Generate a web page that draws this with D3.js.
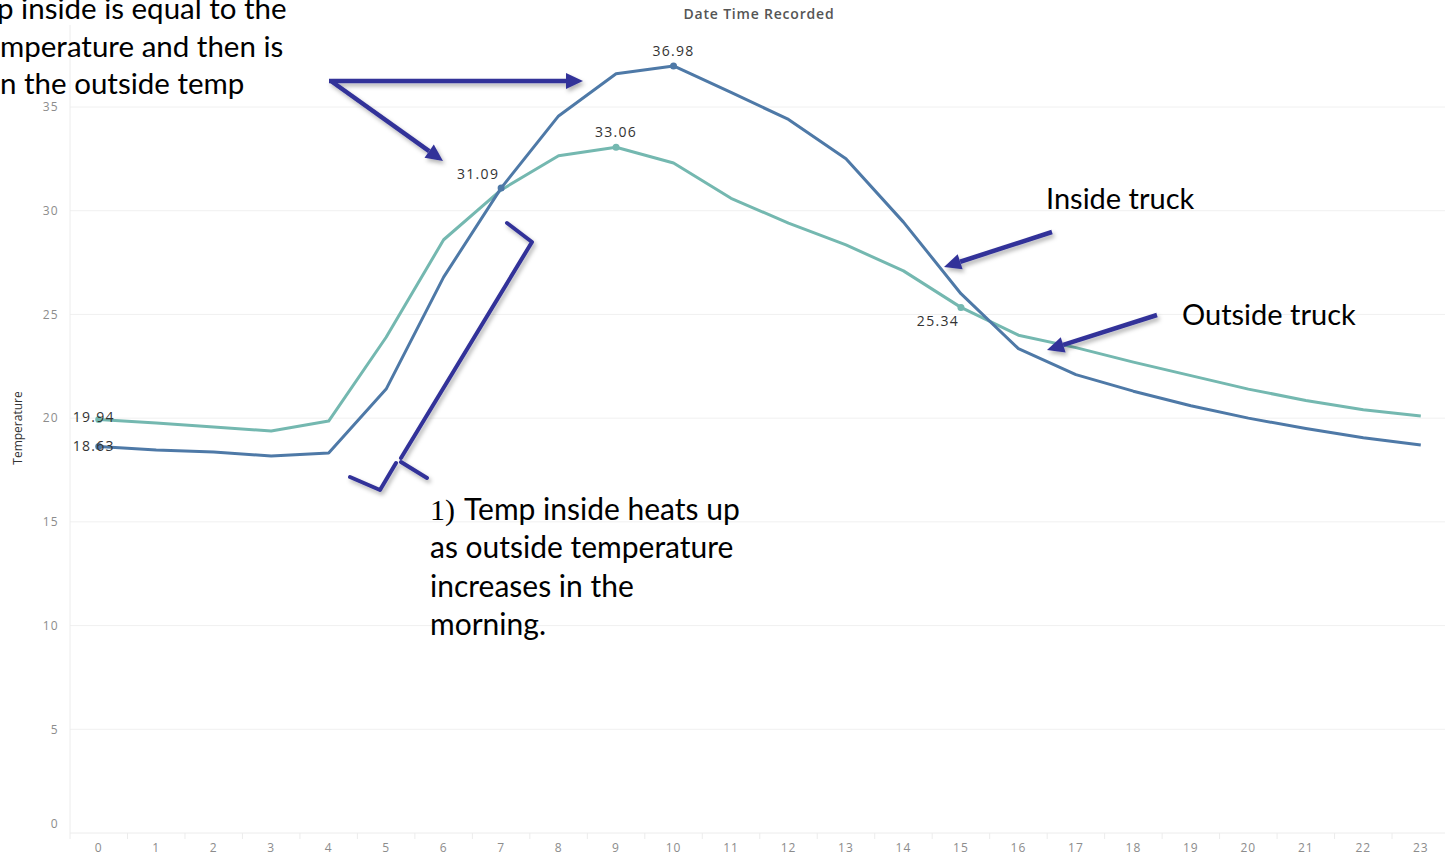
<!DOCTYPE html>
<html>
<head>
<meta charset="utf-8">
<script src="https://cdn.jsdelivr.net/npm/d3@7"></script>
<style>
body { margin: 0; background: #fff; overflow: hidden; }
</style>
</head>
<body>
<svg id="chart" width="1445" height="855"></svg>
<script>
// hourly readings
const hours = [0,1,2,3,4,5,6,7,8,9,10,11,12,13,14,15,16,17,18,19,20,21,22,23]
const insideTemp = [18.63,18.46,18.37,18.17,18.32,21.4,26.8,31.09,34.57,36.6,36.98,35.7,34.4,32.5,29.45,26.0,23.35,22.1,21.3,20.6,20.0,19.5,19.05,18.7]
const outsideTemp = [19.94,19.77,19.57,19.38,19.86,23.9,28.6,31.0,32.65,33.06,32.3,30.6,29.4,28.35,27.1,25.34,24.0,23.4,22.7,22.05,21.4,20.85,20.4,20.1]
const yTicks = [0,5,10,15,20,25,30,35]
const insideMarked = [0,7,10]
const outsideMarked = [0,9,15]

const width = 1445, height = 855
const margin = {top: 25, left: 70, bottom: 833}
const band = 57.48

const svg = d3.select("#chart")

const x = d3.scaleBand()
  .domain(hours)
  .range([margin.left, margin.left + band * hours.length])

const y = d3.scaleLinear()
  .domain([0, 35])
  .range([833, 107])

const xc = h => x(h) + x.bandwidth() / 2

// shadow for the hand drawn arrows
const defs = svg.append("defs")
defs.append("filter").attr("id", "shadow")
  .attr("x", "-20%").attr("y", "-20%").attr("width", "140%").attr("height", "140%")
  .append("feDropShadow")
    .attr("dx", 2).attr("dy", 3).attr("stdDeviation", 2)
    .attr("flood-color", "#000").attr("flood-opacity", 0.3)

// gridlines
svg.append("g")
  .selectAll("line")
  .data(yTicks.filter(d => d > 0))
  .join("line")
    .attr("x1", margin.left).attr("x2", width)
    .attr("y1", d => y(d)).attr("y2", d => y(d))
    .attr("stroke", "#f0f0f0")

// y axis
const yAxis = svg.append("g")
  .attr("transform", `translate(${margin.left},0)`)
  .call(d3.axisLeft(y).tickValues(yTicks).tickSize(0).tickPadding(11))
yAxis.select(".domain").attr("stroke", "#ececec").attr("d", `M0,${margin.top}V${margin.bottom}`)
yAxis.selectAll("text")
  .attr("font-family", "Open Sans, sans-serif")
  .attr("font-size", 12)
  .attr("letter-spacing", 1.3)
  .attr("fill", "#8c8c8c")
  .attr("dy", d => d === 0 ? "-0.45em" : "0.32em")

// x axis
const xAxis = svg.append("g")
  .attr("transform", `translate(0,${margin.bottom})`)
  .call(d3.axisBottom(x).tickSize(0).tickPadding(10))
xAxis.select(".domain").attr("stroke", "#ececec").attr("d", `M${margin.left},0H${width}`)
xAxis.selectAll("text")
  .attr("font-family", "Open Sans, sans-serif")
  .attr("font-size", 12)
  .attr("letter-spacing", 1)
  .attr("fill", "#8c8c8c")
xAxis.append("g")
  .selectAll("line")
  .data(hours)
  .join("line")
    .attr("x1", d => x(d)).attr("x2", d => x(d))
    .attr("y1", 0).attr("y2", 6)
    .attr("stroke", "#ececec")

// axis titles
svg.append("text")
  .attr("x", 759).attr("y", 19)
  .attr("text-anchor", "middle")
  .attr("font-family", "Open Sans, sans-serif")
  .attr("font-size", 14)
  .attr("font-weight", 600)
  .attr("letter-spacing", 0.8)
  .attr("fill", "#555")
  .text("Date Time Recorded")

svg.append("text")
  .attr("transform", "translate(22,428) rotate(-90)")
  .attr("text-anchor", "middle")
  .attr("font-family", "Open Sans, sans-serif")
  .attr("font-size", 12)
  .attr("fill", "#333")
  .text("Temperature")

// lines
const series = [
  {name: "Outside", values: outsideTemp, color: "#74b8b0", marked: outsideMarked},
  {name: "Inside", values: insideTemp, color: "#4e79a7", marked: insideMarked}
]

const line = d3.line()
  .x((d, i) => xc(hours[i]))
  .y(d => y(d))

svg.append("g")
  .attr("fill", "none")
  .attr("stroke-width", 3)
  .attr("stroke-linejoin", "round")
  .selectAll("path")
  .data(series)
  .join("path")
    .attr("stroke", d => d.color)
    .attr("d", d => line(d.values))

// marked points + labels
const labelOffset = {
  "Inside-0": [-5, 4], "Inside-7": [-23, -9], "Inside-10": [0, -10],
  "Outside-0": [-5, 3], "Outside-9": [0, -10], "Outside-15": [-23, 19]
}
const marks = series.flatMap(s => s.marked.map(i => ({s, i, v: s.values[i]})))

svg.append("g")
  .selectAll("circle")
  .data(marks)
  .join("circle")
    .attr("cx", d => xc(hours[d.i]))
    .attr("cy", d => y(d.v))
    .attr("r", 3.5)
    .attr("fill", d => d.s.color)

svg.append("g")
  .selectAll("text")
  .data(marks)
  .join("text")
    .attr("x", d => xc(hours[d.i]) + labelOffset[d.s.name + "-" + d.i][0])
    .attr("y", d => y(d.v) + labelOffset[d.s.name + "-" + d.i][1])
    .attr("text-anchor", "middle")
    .attr("font-family", "Open Sans, sans-serif")
    .attr("font-size", 14)
    .attr("letter-spacing", 1.3)
    .attr("fill", "#333")
    .text(d => d.v.toFixed(2))

// annotations drawn over the chart
const navy = "#333399"
const notes = svg.append("g").attr("filter", "url(#shadow)")

function arrow(x1, y1, x2, y2) {
  const a = Math.atan2(y2 - y1, x2 - x1), len = 17, half = 8
  const bx = x2 - len * Math.cos(a), by = y2 - len * Math.sin(a)
  notes.append("line")
    .attr("x1", x1).attr("y1", y1).attr("x2", bx).attr("y2", by)
    .attr("stroke", navy).attr("stroke-width", 4.5)
  notes.append("path")
    .attr("d", `M${x2},${y2}L${bx - half * Math.sin(a)},${by + half * Math.cos(a)}L${bx + half * Math.sin(a)},${by - half * Math.cos(a)}Z`)
    .attr("fill", navy)
}
arrow(329, 81, 583, 81)
arrow(331, 81, 443, 161)
arrow(1052, 232, 944, 267)
arrow(1157, 315, 1047, 350)

notes.append("path")
  .attr("d", "M507,223L532,242L401,458M427,478L401,462M396,463L380,490L350,477")
  .attr("fill", "none")
  .attr("stroke", navy)
  .attr("stroke-width", 4)
  .attr("stroke-linejoin", "round")
  .attr("stroke-linecap", "round")

const noteFont = "Lato, sans-serif"
// note at the top left runs off the slide edge, only its tail is visible
const topNote = ["p inside is equal to the", "mperature and then is", "n the outside temp"]
svg.append("g")
  .selectAll("text")
  .data(topNote)
  .join("text")
    .attr("x", (d, i) => i === 0 ? -3 : 0)
    .attr("y", (d, i) => [19, 57, 94][i])
    .attr("font-family", noteFont)
    .attr("font-size", 29.5)
    .attr("fill", "#000")
    .text(d => d)

const sideNote = ["Temp inside heats up", "as outside temperature", "increases in the", "morning."]
const sn = svg.append("g")
sn.append("text")
  .attr("x", 430).attr("y", 520)
  .attr("font-family", "Liberation Serif, serif")
  .attr("font-size", 30)
  .text("1)")
sn.selectAll("text.l")
  .data(sideNote)
  .join("text")
    .attr("class", "l")
    .attr("x", (d, i) => i === 0 ? 464 : 430)
    .attr("y", (d, i) => 520 + i * 38.3)
    .attr("font-family", noteFont)
    .attr("font-size", 30)
    .attr("fill", "#000")
    .text(d => d)

svg.append("text")
  .attr("x", 1046).attr("y", 209)
  .attr("font-family", noteFont).attr("font-size", 29)
  .text("Inside truck")
svg.append("text")
  .attr("x", 1182).attr("y", 325)
  .attr("font-family", noteFont).attr("font-size", 29)
  .text("Outside truck")
</script>
</body>
</html>
